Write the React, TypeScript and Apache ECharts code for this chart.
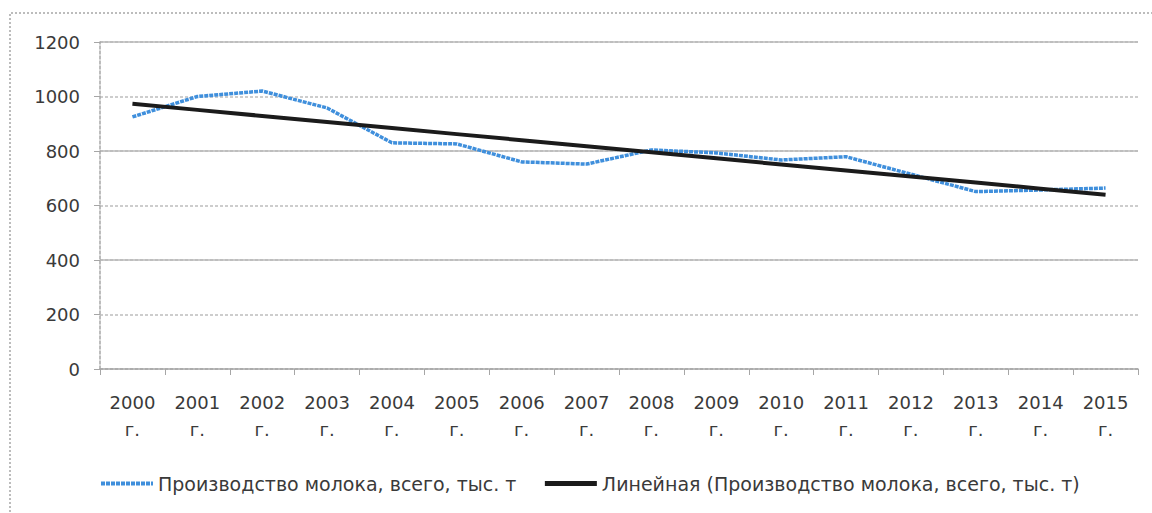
import React, { useEffect, useRef } from "react";
import * as echarts from "echarts";

const years = ["2000", "2001", "2002", "2003", "2004", "2005", "2006", "2007", "2008", "2009", "2010", "2011", "2012", "2013", "2014", "2015"];
const yearLabels = years.map((y) => `${y}\nг.`);
const milkProduction = [925, 1000, 1020, 958, 830, 826, 760, 752, 804, 793, 767, 779, 715, 651, 657, 664];
const seriesName = "Производство молока, всего, тыс. т";
const trendName = "Линейная (Производство молока, всего, тыс. т)";

// Linear least-squares trend, as the spreadsheet's "Линейная" trendline
function linearTrend(values: number[]): number[] {
  const n = values.length;
  const mx = (n - 1) / 2;
  const my = values.reduce((a, b) => a + b, 0) / n;
  let sxy = 0;
  let sxx = 0;
  values.forEach((v, i) => {
    sxy += (i - mx) * (v - my);
    sxx += (i - mx) * (i - mx);
  });
  const slope = sxy / sxx;
  return values.map((_, i) => +(my + slope * (i - mx)).toFixed(1));
}
const trendValues = linearTrend(milkProduction);

const FONT = "DejaVu Sans";
const TEXT = "#3a3a3a";

export default function App() {
  const ref = useRef<HTMLDivElement>(null);
  useEffect(() => {
    if (!ref.current) return;
    const chart = echarts.init(ref.current, null, { renderer: "svg" });
    chart.setOption({
      animation: false,
      backgroundColor: "#ffffff",
      textStyle: { fontFamily: FONT },
      grid: { left: 100, right: 14, top: 42, bottom: 144 },
      graphic: [
        {
          type: "polyline",
          shape: { points: [[10, 600], [10, 13], [1160, 13]] },
          style: { stroke: "#a6a6a6", lineWidth: 1.5, lineDash: [2, 2], fill: "none" },
          silent: true,
        },
      ],
      legend: {
        left: 94,
        top: 469,
        itemWidth: 52,
        itemHeight: 14,
        itemGap: 26,
        itemStyle: { opacity: 0 },
        textStyle: { fontFamily: FONT, fontSize: 19, color: TEXT },
        data: [
          { name: seriesName, lineStyle: { width: 4 } },
          { name: trendName, lineStyle: { width: 5 } },
        ],
      },
      xAxis: {
        type: "category",
        data: yearLabels,
        boundaryGap: true,
        axisLine: { lineStyle: { color: "#a6a6a6", width: 1.5, type: [3, 2] } },
        axisTick: { show: true, length: 6, lineStyle: { color: "#a6a6a6" } },
        axisLabel: {
          interval: 0,
          margin: 20,
          fontFamily: FONT,
          fontSize: 18,
          lineHeight: 27,
          color: TEXT,
        },
        splitLine: { show: false },
      },
      yAxis: [
        {
          type: "value",
          min: 0,
          max: 1200,
          interval: 200,
          axisLine: { show: true, lineStyle: { color: "#a6a6a6", width: 1.5, type: [3, 2] } },
          axisTick: { show: true, length: 6, lineStyle: { color: "#a6a6a6" } },
          axisLabel: {
            margin: 20,
            fontFamily: FONT,
            fontSize: 18,
            color: TEXT,
            formatter: (v: number) => String(v),
          },
          splitLine: { show: true, lineStyle: { color: "#bdbdbd", width: 1.5, type: [3, 2] } },
        },
        {
          type: "value",
          min: 0,
          max: 1200,
          interval: 400,
          position: "left",
          axisLine: { show: false },
          axisTick: { show: false },
          axisLabel: { show: false },
          splitLine: { show: true, lineStyle: { color: "#b8b8b8", width: 1.5, type: "solid" } },
        },
      ],
      series: [
        {
          name: seriesName,
          type: "line",
          data: milkProduction,
          symbol: "none",
          lineStyle: { color: "#3f8fdc", width: 3.5, type: [4, 1] },
          itemStyle: { color: "#3f8fdc" },
          z: 3,
        },
        {
          name: trendName,
          type: "line",
          data: trendValues,
          symbol: "none",
          lineStyle: { color: "#1b1b1b", width: 4 },
          itemStyle: { color: "#1b1b1b" },
          z: 4,
        },
      ],
    });
    return () => chart.dispose();
  }, []);
  return (
    <div
      ref={ref}
      style={{ position: "fixed", left: 0, top: 0, width: 1152, height: 513, background: "#fff" }}
    />
  );
}
